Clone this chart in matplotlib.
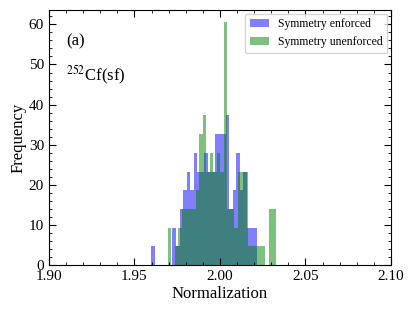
#Normalization histograms for 252Cf(sf), symmetry enforced vs unenforced

import matplotlib
matplotlib.use('Agg')
import matplotlib.pyplot as plt
from matplotlib.ticker import MultipleLocator, AutoMinorLocator

#BLUE SERIES (symmetry enforced) - bin left edges and frequencies
enforced_start = 1.9598
enforced_width = 0.00207
enforced_freq = [4.7, 0, 0, 0, 0, 0, 9.3, 4.7, 14.0, 18.6,
                 23.3, 18.6, 28.0, 23.3, 23.3, 28.0, 23.3, 23.3, 32.6, 32.6,
                 32.6, 37.3, 14.0, 18.6, 28.0, 18.6, 23.3, 9.3, 9.3, 9.3]

#GREEN SERIES (symmetry unenforced)
unenforced_start = 1.9695
unenforced_width = 0.00204
unenforced_freq = [9.3, 0, 4.7, 9.3, 14.0, 14.0, 14.0, 14.0, 18.6, 32.6,
                   37.3, 23.3, 28.0, 23.3, 28.0, 23.3, 60.6, 14.0, 14.0, 9.3,
                   23.3, 23.3, 23.3, 4.7, 4.7, 4.7, 4.7, 4.7, 0, 14.0, 14.0]

enforced_edges = [enforced_start + i * enforced_width for i in range(len(enforced_freq))]
unenforced_edges = [unenforced_start + i * unenforced_width for i in range(len(unenforced_freq))]

plt.rcParams['font.family'] = ['Liberation Serif', 'DejaVu Serif']
plt.rcParams['mathtext.fontset'] = 'stix'

fig = plt.figure(figsize=(4.15, 3.12), dpi=100)
ax = fig.add_axes([0.118, 0.151, 0.824, 0.817])

ax.bar(enforced_edges, enforced_freq, width=enforced_width, align='edge',
       color='blue', alpha=0.5, linewidth=0, label='Symmetry enforced')
ax.bar(unenforced_edges, unenforced_freq, width=unenforced_width, align='edge',
       color='green', alpha=0.5, linewidth=0, label='Symmetry unenforced')

#axes limits and ticks
ax.set_xlim(1.90, 2.10)
ax.set_ylim(0, 63.6)
ax.xaxis.set_major_locator(MultipleLocator(0.05))
ax.xaxis.set_minor_locator(AutoMinorLocator(5))
ax.yaxis.set_major_locator(MultipleLocator(10))
ax.yaxis.set_minor_locator(AutoMinorLocator(5))
ax.xaxis.set_major_formatter(matplotlib.ticker.FormatStrFormatter('%.2f'))
ax.tick_params(which='both', direction='in', top=True, right=True, labelsize=11)
ax.tick_params(which='major', length=5)
ax.tick_params(which='minor', length=2.5)

ax.set_xlabel('Normalization', fontsize=12, labelpad=2)
ax.set_ylabel('Frequency', fontsize=12, labelpad=2)

ax.text(0.05, 0.875, '(a)', transform=ax.transAxes, fontsize=12, va='center')
ax.text(0.05, 0.745, r'$^{252}$Cf(sf)', transform=ax.transAxes, fontsize=12, va='center')

ax.legend(loc='upper right', fontsize=8.5, handlelength=1.6, borderaxespad=0.3)

fig.savefig('out.png', dpi=100)
